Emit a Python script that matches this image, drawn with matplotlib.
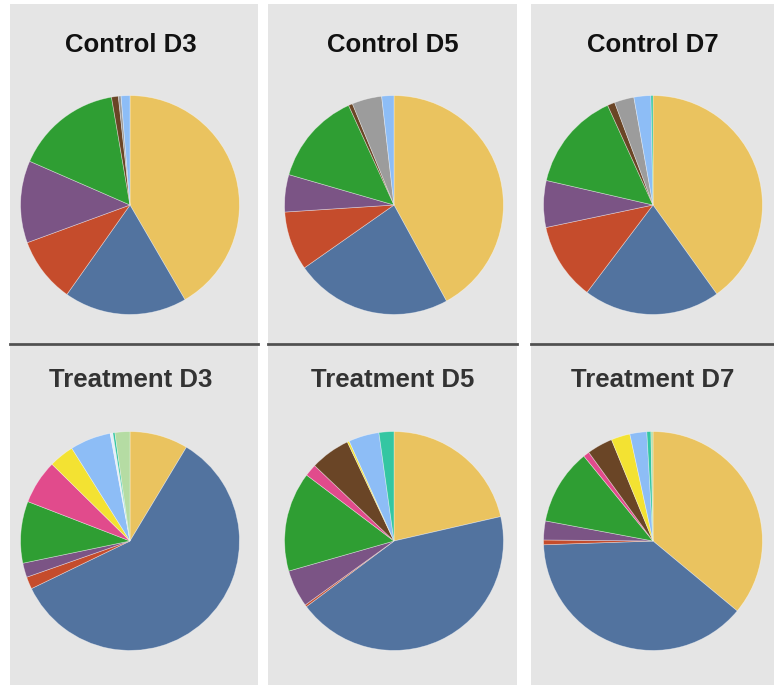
import matplotlib
matplotlib.use('Agg')
import matplotlib.pyplot as plt
from matplotlib.patches import Rectangle

# slice order (clockwise from 12 o'clock) and colours
groups = ['yellow', 'blue', 'red', 'purple', 'green', 'pink', 'brown', 'grey',
          'lemon', 'lightblue', 'white', 'teal', 'lightgreen']
colors = ['#EAC35F', '#52739F', '#C54C2C', '#7B5485', '#2F9E33', '#E14B8C', '#6A4526', '#9C9C9C',
          '#F3E232', '#8DBDF6', '#E6EEF8', '#34C6A2', '#B5DCA3']

titles = ['Control D3', 'Control D5', 'Control D7', 'Treatment D3', 'Treatment D5', 'Treatment D7']

control_d3 = [41.5, 18.1, 9.6, 12.1, 15.7, 0, 1.0, 0.4, 0, 1.3, 0, 0, 0]
control_d5 = [42.0, 23.2, 8.7, 5.5, 13.7, 0, 0.6, 4.4, 0, 1.8, 0, 0, 0]
control_d7 = [40.1, 20.2, 11.4, 6.9, 14.6, 0, 1.1, 2.9, 0, 2.5, 0, 0.3, 0]
treatment_d3 = [8.6, 59.1, 1.8, 2.1, 9.1, 6.5, 0, 0, 3.7, 6.0, 0.4, 0.3, 2.2]
treatment_d5 = [21.4, 43.3, 0.3, 5.5, 14.7, 1.8, 5.9, 0, 0.3, 4.5, 0, 2.2, 0]
treatment_d7 = [36.1, 38.5, 0.7, 2.8, 11.2, 0.9, 3.8, 0, 2.8, 2.5, 0, 0.6, 0.3]
values = [control_d3, control_d5, control_d7, treatment_d3, treatment_d5, treatment_d7]

W, H = 774, 685
fig = plt.figure(figsize=(W / 100, H / 100), dpi=100)
fig.patch.set_facecolor('white')

# grey panels (pixel boxes: left, right)
cols = [(10, 258), (268, 517), (531, 774)]
rows = [(4, 343), (346, 685)]
for (top, bot) in rows:
    for (l, r) in cols:
        fig.patches.append(Rectangle((l / W, 1 - bot / H), (r - l) / W, (bot - top) / H,
                                     transform=fig.transFigure, facecolor='#E5E5E5',
                                     edgecolor='none', zorder=-2))
# separator between control and treatment rows
for (l, r) in cols:
    fig.add_artist(plt.Line2D([l / W, r / W], [1 - 344 / H, 1 - 344 / H],
                              transform=fig.transFigure, color='#505050', linewidth=2, zorder=-1))

centers_x = [130, 394, 653]
centers_y = [205, 541]
title_x = [131, 393, 653]
title_y = [45, 380]
radius = 110

for k in range(6):
    i, j = divmod(k, 3)
    cx, cy = centers_x[j], centers_y[i]
    ax = fig.add_axes([(cx - radius) / W, 1 - (cy + radius) / H, 2 * radius / W, 2 * radius / H])
    vals = [v for v in values[k] if v > 0]
    cols_k = [c for v, c in zip(values[k], colors) if v > 0]
    ax.pie(vals, colors=cols_k, startangle=90, counterclock=False,
           wedgeprops=dict(edgecolor=(1, 1, 1, 0.45), linewidth=0.5))
    ax.set_xlim(-1.005, 1.005)
    ax.set_ylim(-1.005, 1.005)
    ax.axis('off')
    tc = '#111111' if i == 0 else '#333333'
    fig.text(title_x[j] / W, 1 - title_y[i] / H, titles[k], ha='center', va='center',
             fontsize=18.5, fontweight='bold', family='Liberation Sans', color=tc)

fig.savefig('out.png', dpi=100)
